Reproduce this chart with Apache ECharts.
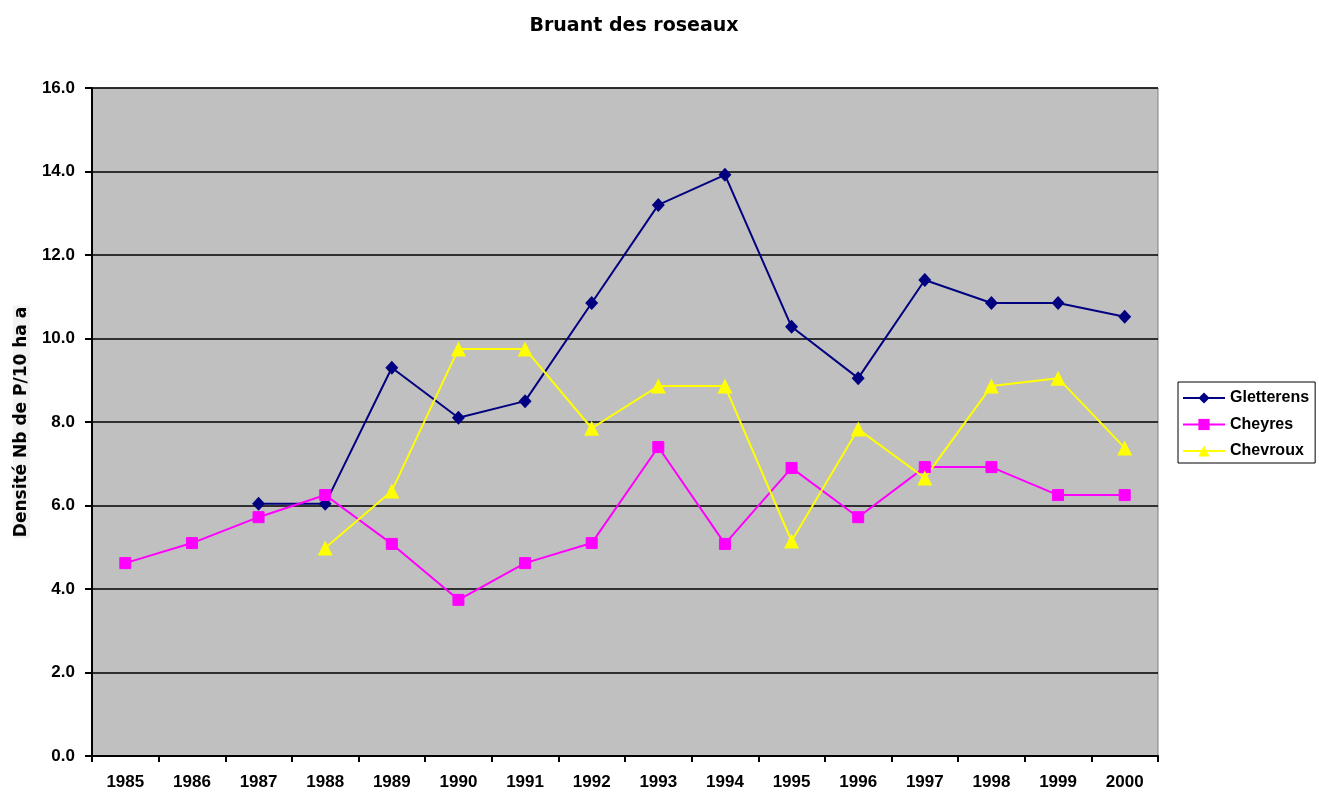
<!DOCTYPE html>
<html>
<head>
<meta charset="utf-8">
<script src="https://cdn.jsdelivr.net/npm/echarts@6/dist/echarts.min.js"></script>
<style>
  html, body { margin: 0; padding: 0; background: #fff; }
  #chart { width: 1319px; height: 794px; }
</style>
</head>
<body>
<div id="chart"></div>
<script>
// données
var years = ['1985', '1986', '1987', '1988', '1989', '1990', '1991', '1992',
             '1993', '1994', '1995', '1996', '1997', '1998', '1999', '2000'];
var gletterens = [null, null, 6.04, 6.04, 9.3, 8.1, 8.5, 10.85, 13.2, 13.92, 10.28, 9.05, 11.4, 10.85, 10.85, 10.52];
var cheyres = [4.62, 5.1, 5.72, 6.25, 5.08, 3.74, 4.62, 5.1, 7.4, 5.08, 6.9, 5.72, 6.92, 6.92, 6.25, 6.25];
var chevroux = [null, null, null, 4.98, 6.35, 9.75, 9.75, 7.85, 8.86, 8.86, 5.15, 7.83, 6.66, 8.86, 9.05, 7.38];
var yTicks = [0, 2, 4, 6, 8, 10, 12, 14, 16];

var myChart = echarts.init(document.getElementById('chart'));
var font = 'Liberation Sans, Arial, sans-serif';
var wideFont = 'DejaVu Sans, Verdana, sans-serif';

var option = {
    backgroundColor: '#fff',
    animation: false,
    title: {
        text: 'Bruant des roseaux',
        left: 629,
        top: 12,
        textAlign: 'center',
        textStyle: { fontFamily: wideFont, fontSize: 19, fontWeight: 'bold', color: '#000' }
    },
    legend: {
        orient: 'vertical',
        left: 1178,
        top: 382,
        padding: [8, 6, 4, 4],
        itemGap: 10.5,
        itemWidth: 42,
        itemHeight: 14,
        backgroundColor: '#fff',
        borderColor: '#000',
        borderWidth: 1,
        borderRadius: 0,
        textStyle: { fontFamily: font, fontSize: 16, fontWeight: 'bold', color: '#000' },
        data: ['Gletterens', 'Cheyres', 'Chevroux']
    },
    grid: {
        left: 92, right: 161, top: 88, bottom: 38,
        outerBoundsMode: 'none',
        show: true, backgroundColor: '#c0c0c0', borderColor: '#808080', borderWidth: 1
    },
    xAxis: {
        type: 'category',
        data: years,
        boundaryGap: true,
        axisLine: { lineStyle: { color: '#000', width: 2 } },
        axisTick: { show: true, length: 6, interval: 0, lineStyle: { color: '#000', width: 2 } },
        axisLabel: { margin: 18, interval: 0, fontFamily: font, fontSize: 17, fontWeight: 'bold', color: '#000' }
    },
    yAxis: {
        type: 'value',
        min: yTicks[0],
        max: yTicks[yTicks.length - 1],
        interval: 2,
        name: 'Densité Nb de P/10 ha a',
        nameLocation: 'middle',
        nameGap: 62,
        nameRotate: 90,
        nameTextStyle: { fontFamily: wideFont, fontSize: 17, fontWeight: 'bold', color: '#000', backgroundColor: '#f2f2f2', padding: [0, 1, 0, 1] },
        axisLine: { show: true, lineStyle: { color: '#000', width: 2 } },
        axisTick: { show: true, length: 7, lineStyle: { color: '#000', width: 2 } },
        axisLabel: {
            margin: 17,
            fontFamily: font, fontSize: 17, fontWeight: 'bold', color: '#000',
            formatter: function (v) { return v.toFixed(1); }
        },
        splitLine: { show: true, lineStyle: { color: '#000', width: 1.5 } }
    },
    series: [
        {
            name: 'Gletterens',
            type: 'line',
            data: gletterens,
            symbol: 'diamond',
            symbolSize: [13, 14],
            connectNulls: false,
            itemStyle: { color: '#000080' },
            lineStyle: { color: '#000080', width: 2 }
        },
        {
            name: 'Cheyres',
            type: 'line',
            data: cheyres,
            symbol: 'rect',
            symbolSize: 11,
            itemStyle: { color: '#ff00ff', borderColor: '#ff00ff' },
            lineStyle: { color: '#ff00ff', width: 2 }
        },
        {
            name: 'Chevroux',
            type: 'line',
            data: chevroux,
            symbol: 'triangle',
            symbolSize: 15,
            itemStyle: { color: '#ffff00' },
            lineStyle: { color: '#ffff00', width: 2 }
        }
    ]
};

myChart.setOption(option);
</script>
</body>
</html>
